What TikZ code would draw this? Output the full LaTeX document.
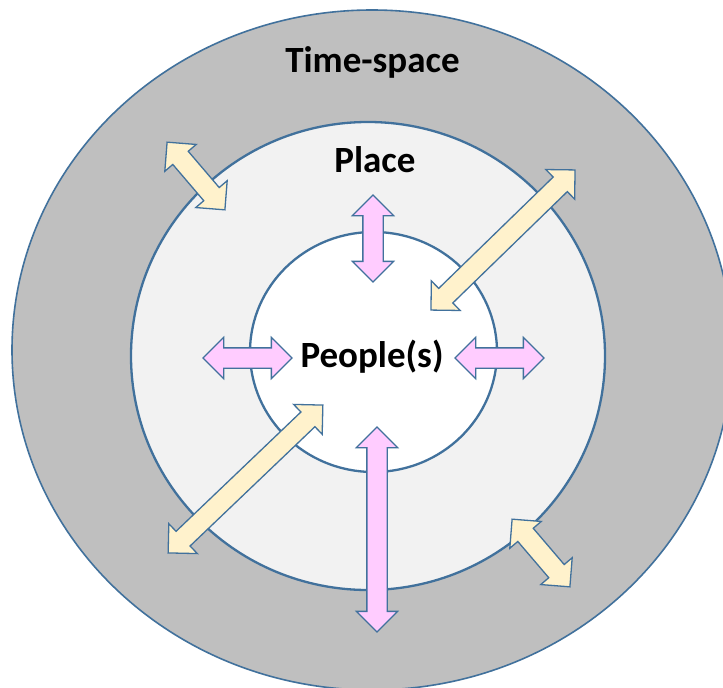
\documentclass[tikz,border=0pt]{standalone}
\usepackage{fontspec}
\setmainfont{Carlito}
\usetikzlibrary{shapes.geometric,shapes.arrows}
\definecolor{rim}{HTML}{41719C}
\definecolor{outergray}{HTML}{BFBFBF}
\definecolor{placegray}{HTML}{F2F2F2}
\definecolor{cream}{HTML}{FFF2CC}
\definecolor{orchid}{HTML}{FFCCFF}

\begin{document}
\begin{tikzpicture}[x=1pt,y=-1pt,
  ring/.style={ellipse,draw=rim,inner sep=0pt,line width=2.3pt},
  link/.style={double arrow,draw=rim,line width=1.3pt,inner xsep=0pt,
    inner ysep=9.5pt,double arrow head extend=10.5pt,double arrow tip angle=90},
  yellowlink/.style={link,fill=cream},
  pinklink/.style={link,fill=orchid},
  label/.style={anchor=base,font=\fontsize{37}{42}\selectfont\bfseries}
]
\clip (0,0) rectangle (723,688);
\fill[white] (0,0) rectangle (723,688);
% the three rings
\node[ring,fill=outergray,line width=1.6pt,minimum width=720pt,minimum height=680pt] (timespace) at (372,350) {};
\node[ring,fill=placegray,minimum width=474pt,minimum height=468pt] (place) at (368,356) {};
\node[ring,fill=white,minimum width=247pt,minimum height=240pt] (people) at (373.5,352) {};
% labels
\node[label] (timespacelabel) at (372.5,72.5) {Time-space};
\node[label] (placelabel) at (375,172) {Place};
\node[label] (peoplelabel) at (372,367) {People(s)};
% block arrows
\foreach \cx/\cy/\ang/\len/\kind [count=\n] in {
    196/176/-49.5/89/yellowlink, 541/553/-49.5/89/yellowlink,
    503/240/44.2/201/yellowlink, 245.5/479/43.7/214/yellowlink,
    373/238.5/90/87/pinklink, 377/529.5/90/205/pinklink,
    247.5/358/0/89/pinklink, 499.5/358/0/89/pinklink}
  \node[\kind,minimum height=\len pt,rotate=\ang] (arrow\n) at (\cx,\cy) {};
\end{tikzpicture}
\end{document}
